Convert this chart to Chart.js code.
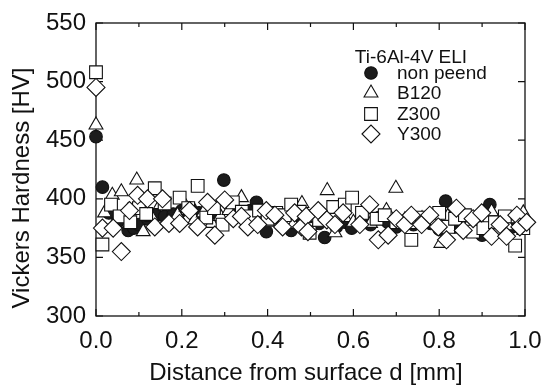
<!DOCTYPE html>
<html>
<head>
<meta charset="utf-8">
<script src="https://cdn.jsdelivr.net/npm/chart.js@4/dist/chart.umd.min.js"></script>
<style>
  html, body { margin: 0; padding: 0; background: #fff; }
  #wrap { width: 543px; height: 385px; }
</style>
</head>
<body>
<div id="wrap"><canvas id="hv" width="543" height="385"></canvas></div>
<script>
/* ---- data: depth d [mm] and hardness [HV] ---- */
const nonPeendD = [0.0, 0.015, 0.03, 0.05, 0.075, 0.088, 0.1, 0.12, 0.14, 0.16, 0.18, 0.2, 0.22, 0.24, 0.26, 0.28, 0.298, 0.32, 0.34, 0.36, 0.374, 0.397, 0.42, 0.44, 0.455, 0.48, 0.5, 0.52, 0.533, 0.56, 0.58, 0.596, 0.62, 0.64, 0.66, 0.68, 0.7, 0.72, 0.74, 0.76, 0.78, 0.8, 0.815, 0.837, 0.86, 0.88, 0.9, 0.918, 0.94, 0.97, 0.99];
const nonPeendHV = [453, 410, 388, 380, 373, 375, 378, 383, 386, 385, 387, 390, 392, 388, 391, 387, 416, 389, 386, 390, 397, 372, 384, 380, 373, 382, 385, 379, 367, 376, 380, 375, 382, 378, 384, 380, 376, 381, 378, 383, 379, 374, 398, 376, 380, 377, 369, 395, 382, 376, 380];

const b120D = [0.0, 0.02, 0.038, 0.059, 0.075, 0.095, 0.11, 0.13, 0.15, 0.17, 0.19, 0.21, 0.23, 0.25, 0.27, 0.29, 0.31, 0.339, 0.36, 0.38, 0.4, 0.42, 0.44, 0.46, 0.48, 0.5, 0.52, 0.539, 0.557, 0.58, 0.6, 0.62, 0.64, 0.66, 0.677, 0.699, 0.72, 0.74, 0.76, 0.78, 0.804, 0.82, 0.848, 0.87, 0.9, 0.922, 0.94, 0.96, 0.98, 0.996];
const b120HV = [463, 388, 403, 406, 390, 416, 372, 384, 395, 380, 386, 393, 382, 388, 379, 385, 390, 401, 383, 388, 380, 385, 382, 378, 396, 384, 380, 407, 371, 384, 380, 386, 379, 384, 390, 409, 382, 378, 383, 380, 362, 385, 382, 378, 376, 389, 380, 377, 383, 388];

const z300D = [0.0, 0.015, 0.035, 0.055, 0.08, 0.1, 0.117, 0.137, 0.16, 0.195, 0.215, 0.237, 0.257, 0.275, 0.295, 0.319, 0.34, 0.36, 0.38, 0.4, 0.42, 0.44, 0.455, 0.475, 0.498, 0.52, 0.553, 0.58, 0.597, 0.62, 0.654, 0.673, 0.7, 0.735, 0.76, 0.78, 0.8, 0.821, 0.837, 0.86, 0.879, 0.903, 0.93, 0.953, 0.977, 0.996];
const z300HV = [508, 361, 395, 385, 380, 392, 387, 409, 396, 401, 392, 411, 384, 392, 378, 397, 389, 385, 390, 383, 388, 386, 395, 389, 371, 382, 393, 395, 401, 388, 383, 386, 380, 365, 384, 381, 388, 376, 383, 386, 372, 375, 380, 385, 360, 375];

const y300D = [0.0, 0.015, 0.04, 0.059, 0.078, 0.097, 0.12, 0.137, 0.155, 0.17, 0.195, 0.218, 0.237, 0.26, 0.277, 0.3, 0.32, 0.339, 0.354, 0.377, 0.397, 0.417, 0.435, 0.463, 0.479, 0.49, 0.494, 0.518, 0.538, 0.557, 0.576, 0.615, 0.638, 0.658, 0.681, 0.7, 0.72, 0.735, 0.759, 0.778, 0.798, 0.817, 0.84, 0.856, 0.879, 0.899, 0.922, 0.942, 0.957, 0.981, 0.988, 1.004];
const y300HV = [495, 375, 375, 355, 390, 403, 400, 376, 400, 379, 379, 390, 376, 397, 369, 399, 383, 385, 376, 378, 390, 386, 376, 388, 376, 385, 372, 390, 382, 378, 388, 378, 395, 365, 369, 383, 378, 386, 378, 386, 376, 365, 392, 373, 383, 388, 368, 378, 368, 386, 376, 380];

const seriesNames = ['non peend', 'B120', 'Z300', 'Y300'];
const legendTitle = 'Ti-6Al-4V ELI';
const xTitle = 'Distance from surface d [mm]';
const yTitle = 'Vickers Hardness [HV]';

const FONT = '"Liberation Sans", Arial, Helvetica, sans-serif';
const INK = '#111';

function pts(xs, ys) {
  return xs.map((x, i) => ({ x, y: ys[i] }));
}

// marker styles per series (legend uses the same)
const markers = [
  { pointStyle: 'circle',   radius: 6.3, fill: '#1c1c1c' },
  { pointStyle: 'triangle', radius: 8,   fill: '#fff' },
  { pointStyle: 'rect',     radius: 9,   fill: '#fff' },
  { pointStyle: 'rectRot',  radius: 9,   fill: '#fff' },
];

function ds(i, xs, ys) {
  const m = markers[i];
  return {
    label: seriesNames[i],
    data: pts(xs, ys),
    pointStyle: m.pointStyle,
    pointRadius: m.radius,
    pointHoverRadius: m.radius,
    backgroundColor: m.fill,
    borderColor: INK,
    borderWidth: 1.1,
    order: 4 - i,          // diamonds end up on top
    clip: false,
  };
}

/* ─── frame, inward ticks, titles, legend ─── */
const framePlugin = {
  id: 'frame',
  beforeDatasetsDraw(chart) {
    const { ctx, chartArea: a, scales } = chart;
    ctx.save();
    ctx.strokeStyle = INK;
    ctx.lineWidth = 1.3;
    ctx.strokeRect(a.left, a.top, a.right - a.left, a.bottom - a.top);
    ctx.lineWidth = 1.2;
    ctx.beginPath();
    for (let k = 0; k <= 10; k++) {
      const px = scales.x.getPixelForValue(k / 10);
      const len = k % 2 === 0 ? 7 : 4;
      ctx.moveTo(px, a.bottom); ctx.lineTo(px, a.bottom - len);
      ctx.moveTo(px, a.top);    ctx.lineTo(px, a.top + len);
    }
    for (let v = 300; v <= 550; v += 50) {
      const py = scales.y.getPixelForValue(v);
      ctx.moveTo(a.left, py);  ctx.lineTo(a.left + 7, py);
      ctx.moveTo(a.right, py); ctx.lineTo(a.right - 7, py);
    }
    ctx.stroke();
    ctx.restore();
  },
  afterDraw(chart) {
    const { ctx } = chart;
    ctx.save();
    ctx.fillStyle = INK;
    ctx.font = '24px ' + FONT;
    ctx.textAlign = 'center';
    ctx.textBaseline = 'alphabetic';
    ctx.fillText(xTitle, 306, 380);
    ctx.translate(29, 188);
    ctx.rotate(-Math.PI / 2);
    ctx.fillText(yTitle, 0, 0);
    ctx.restore();

    // legend inside the plot
    ctx.save();
    ctx.fillStyle = INK;
    ctx.font = '19px ' + FONT;
    ctx.textBaseline = 'middle';
    ctx.textAlign = 'center';
    ctx.fillText(legendTitle, 411, 58);
    ctx.textAlign = 'left';
    const rowY = [73, 93, 114, 134];
    seriesNames.forEach((name, i) => {
      const m = markers[i];
      ctx.fillStyle = m.fill;
      ctx.strokeStyle = INK;
      ctx.lineWidth = 1.1;
      Chart.helpers.drawPoint(ctx, { pointStyle: m.pointStyle, radius: m.radius, rotation: 0, borderWidth: 1.1 }, 371, rowY[i]);
      ctx.fillStyle = INK;
      ctx.fillText(name, 397, rowY[i] + 1);
    });
    ctx.restore();
  }
};

new Chart(document.getElementById('hv'), {
  type: 'scatter',
  data: {
    datasets: [
      ds(0, nonPeendD, nonPeendHV),
      ds(1, b120D, b120HV),
      ds(2, z300D, z300HV),
      ds(3, y300D, y300HV),
    ]
  },
  options: {
    responsive: false,
    animation: false,
    events: [],
    layout: { padding: { top: 23, right: 18, left: 0, bottom: 0 } },
    plugins: { legend: { display: false }, tooltip: { enabled: false } },
    scales: {
      x: {
        type: 'linear', min: 0, max: 1.0,
        border: { display: false },
        grid: { display: false, drawTicks: false },
        ticks: {
          stepSize: 0.2, padding: 11, color: INK,
          font: { family: FONT, size: 24 },
          callback: v => Number(v).toFixed(1),
        },
        afterFit(scale) {
          scale.height = 69;
          scale.paddingLeft = 0;
          scale.paddingRight = 0;
        },
      },
      y: {
        type: 'linear', min: 300, max: 550,
        border: { display: false },
        grid: { display: false, drawTicks: false },
        ticks: {
          stepSize: 50, padding: 10, color: INK,
          font: { family: FONT, size: 24 },
        },
        afterFit(scale) {
          scale.width = 96;
          scale.paddingTop = 0;
          scale.paddingBottom = 0;
        },
      }
    }
  },
  plugins: [framePlugin]
});
</script>
</body>
</html>
